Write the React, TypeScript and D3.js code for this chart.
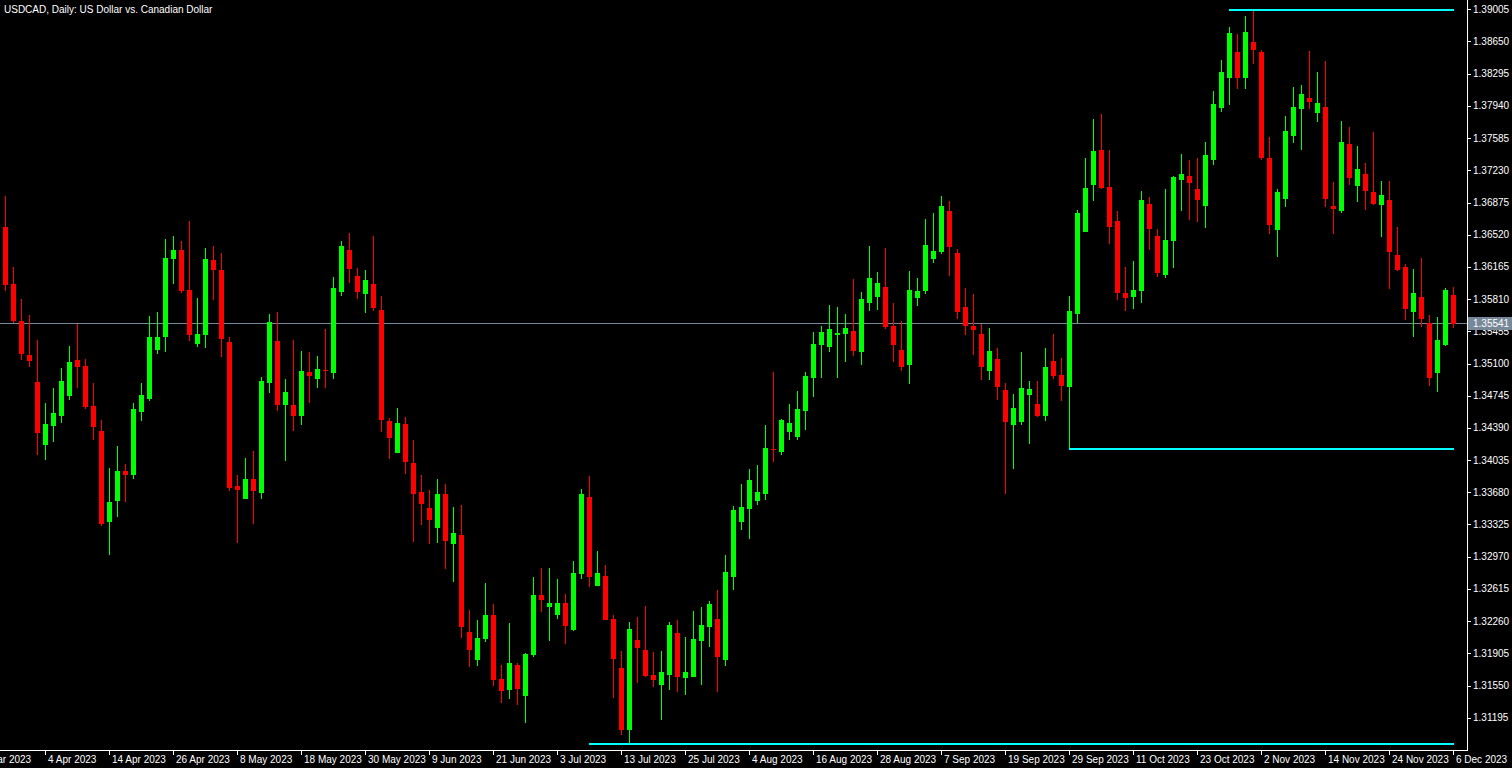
import React, { useEffect } from 'react';
import * as d3 from 'd3';

const openP = [1.3661,1.3598,1.3557,1.3519,1.3490,1.3420,1.3441,1.3452,1.3474,1.3514,1.3507,1.3463,1.3436,1.3335,1.3358,1.3392,1.3387,1.3457,1.3471,1.3525,1.3539,1.3625,1.3635,1.3591,1.3532,1.3541,1.3624,1.3613,1.3534,1.3375,1.3361,1.3383,1.3367,1.3489,1.3535,1.3464,1.3464,1.3452,1.3501,1.3493,1.3503,1.3500,1.3589,1.3635,1.3606,1.3587,1.3598,1.3569,1.3447,1.3411,1.3443,1.3400,1.3368,1.3351,1.3329,1.3366,1.3311,1.3321,1.3214,1.3183,1.3206,1.3233,1.3162,1.3150,1.3178,1.3143,1.3189,1.3255,1.3242,1.3233,1.3246,1.3216,1.3278,1.3363,1.3265,1.3276,1.3228,1.3174,1.3106,1.3205,1.3194,1.3167,1.3156,1.3167,1.3213,1.3163,1.3164,1.3204,1.3220,1.3228,1.3183,1.3275,1.3335,1.3350,1.3358,1.3366,1.3416,1.3412,1.3435,1.3429,1.3458,1.3494,1.3530,1.3528,1.3541,1.3543,1.3546,1.3523,1.3577,1.3583,1.3594,1.3551,1.3525,1.3508,1.3582,1.3590,1.3625,1.3633,1.3678,1.3632,1.3572,1.3551,1.3543,1.3502,1.3515,1.3481,1.3442,1.3446,1.3475,1.3465,1.3452,1.3513,1.3497,1.3484,1.3565,1.3655,1.3707,1.3745,1.3705,1.3667,1.3588,1.3583,1.3590,1.3686,1.3651,1.3608,1.3645,1.3712,1.3717,1.3702,1.3684,1.3734,1.3792,1.3825,1.3853,1.3825,1.3864,1.3853,1.3737,1.3657,1.3691,1.3761,1.3791,1.3803,1.3786,1.3793,1.3684,1.3678,1.3752,1.3706,1.3719,1.3699,1.3685,1.3690,1.3630,1.3616,1.3567,1.3583,1.3555,1.3500,1.3530,1.3586];
const highP = [1.3695,1.3616,1.3581,1.3563,1.3536,1.3466,1.3483,1.3505,1.3529,1.3554,1.3515,1.3489,1.3448,1.3395,1.3419,1.3399,1.3466,1.3489,1.3562,1.3567,1.3647,1.3651,1.3645,1.3667,1.3582,1.3637,1.3640,1.3632,1.3539,1.3387,1.3406,1.3414,1.3495,1.3565,1.3567,1.3493,1.3536,1.3524,1.3523,1.3518,1.3548,1.3605,1.3645,1.3654,1.3615,1.3613,1.3651,1.3584,1.3450,1.3461,1.3451,1.3426,1.3387,1.3371,1.3383,1.3377,1.3352,1.3354,1.3238,1.3227,1.3268,1.3245,1.3178,1.3224,1.3180,1.3191,1.3275,1.3285,1.3285,1.3272,1.3256,1.3292,1.3372,1.3386,1.3303,1.3288,1.3233,1.3193,1.3225,1.3231,1.3243,1.3192,1.3193,1.3225,1.3227,1.3209,1.3237,1.3242,1.3248,1.3260,1.3299,1.3353,1.3377,1.3394,1.3398,1.3442,1.3501,1.3449,1.3465,1.3480,1.3501,1.3545,1.3551,1.3575,1.3572,1.3565,1.3603,1.3589,1.3640,1.3611,1.3637,1.3577,1.3557,1.3612,1.3604,1.3669,1.3676,1.3695,1.3689,1.3636,1.3593,1.3587,1.3554,1.3549,1.3527,1.3489,1.3476,1.3523,1.3491,1.3491,1.3527,1.3543,1.3516,1.3584,1.3679,1.3737,1.3780,1.3785,1.3745,1.3678,1.3616,1.3623,1.3700,1.3694,1.3658,1.3702,1.3717,1.3741,1.3734,1.3737,1.3754,1.3810,1.3845,1.3881,1.3873,1.3893,1.3900,1.3856,1.3760,1.3702,1.3783,1.3815,1.3817,1.3855,1.3831,1.3844,1.3710,1.3777,1.3771,1.3750,1.3731,1.3765,1.3711,1.3711,1.3661,1.3620,1.3614,1.3626,1.3563,1.3561,1.3593,1.3594];
const lowP = [1.3590,1.3555,1.3514,1.3506,1.3409,1.3404,1.3423,1.3444,1.3470,1.3483,1.3460,1.3426,1.3331,1.3299,1.3341,1.3357,1.3383,1.3447,1.3469,1.3520,1.3523,1.3598,1.3588,1.3535,1.3528,1.3527,1.3580,1.3517,1.3369,1.3312,1.3361,1.3333,1.3361,1.3478,1.3458,1.3403,1.3436,1.3442,1.3466,1.3483,1.3483,1.3493,1.3584,1.3599,1.3581,1.3566,1.3568,1.3434,1.3405,1.3411,1.3388,1.3313,1.3332,1.3311,1.3312,1.3283,1.3269,1.3207,1.3175,1.3177,1.3203,1.3154,1.3136,1.3140,1.3134,1.3114,1.3186,1.3236,1.3204,1.3228,1.3201,1.3215,1.3272,1.3264,1.3265,1.3227,1.3141,1.3100,1.3089,1.3158,1.3164,1.3153,1.3117,1.3150,1.3148,1.3145,1.3164,1.3156,1.3197,1.3148,1.3177,1.3260,1.3326,1.3317,1.3354,1.3360,1.3401,1.3409,1.3426,1.3426,1.3437,1.3473,1.3494,1.3523,1.3494,1.3512,1.3518,1.3508,1.3568,1.3569,1.3548,1.3512,1.3502,1.3487,1.3573,1.3587,1.3621,1.3631,1.3606,1.3559,1.3541,1.3519,1.3492,1.3492,1.3470,1.3366,1.3394,1.3442,1.3421,1.3451,1.3447,1.3493,1.3469,1.3416,1.3555,1.3655,1.3689,1.3702,1.3642,1.3580,1.3568,1.3570,1.3577,1.3635,1.3605,1.3604,1.3615,1.3678,1.3668,1.3666,1.3659,1.3729,1.3787,1.3795,1.3813,1.3813,1.3840,1.3734,1.3653,1.3627,1.3683,1.3753,1.3745,1.3791,1.3776,1.3683,1.3653,1.3676,1.3707,1.3688,1.3679,1.3685,1.3650,1.3592,1.3612,1.3558,1.3539,1.3550,1.3485,1.3479,1.3529,1.3549];
const closeP = [1.3597,1.3557,1.3520,1.3513,1.3433,1.3443,1.3455,1.3491,1.3512,1.3506,1.3462,1.3440,1.3333,1.3357,1.3392,1.3387,1.3460,1.3475,1.3539,1.3539,1.3626,1.3635,1.3590,1.3541,1.3543,1.3625,1.3613,1.3537,1.3373,1.3371,1.3383,1.3369,1.3491,1.3556,1.3464,1.3479,1.3452,1.3502,1.3496,1.3504,1.3502,1.3593,1.3640,1.3614,1.3589,1.3602,1.3571,1.3448,1.3428,1.3444,1.3401,1.3366,1.3355,1.3338,1.3366,1.3314,1.3323,1.3220,1.3194,1.3207,1.3233,1.3161,1.3149,1.3180,1.3151,1.3190,1.3255,1.3249,1.3246,1.3246,1.3221,1.3279,1.3366,1.3275,1.3279,1.3227,1.3184,1.3106,1.3217,1.3196,1.3166,1.3161,1.3170,1.3222,1.3164,1.3170,1.3206,1.3222,1.3245,1.3186,1.3280,1.3348,1.3352,1.3382,1.3368,1.3417,1.3415,1.3448,1.3444,1.3460,1.3496,1.3532,1.3545,1.3548,1.3544,1.3549,1.3524,1.3581,1.3604,1.3599,1.3550,1.3530,1.3506,1.3591,1.3590,1.3641,1.3634,1.3684,1.3638,1.3567,1.3551,1.3547,1.3506,1.3524,1.3484,1.3446,1.3461,1.3483,1.3482,1.3452,1.3506,1.3496,1.3485,1.3568,1.3676,1.3704,1.3744,1.3704,1.3661,1.3588,1.3582,1.3591,1.3690,1.3658,1.3610,1.3646,1.3716,1.3719,1.3709,1.3690,1.3740,1.3796,1.3831,1.3874,1.3825,1.3876,1.3856,1.3737,1.3663,1.3699,1.3766,1.3793,1.3807,1.3798,1.3797,1.3691,1.3680,1.3754,1.3715,1.3724,1.3700,1.3686,1.3696,1.3633,1.3613,1.3570,1.3588,1.3559,1.3494,1.3536,1.3591,1.3554];

const priceTickLabels = ["1.39005","1.38650","1.38295","1.37940","1.37585","1.37230","1.36875","1.36520","1.36165","1.35810","1.35455","1.35100","1.34745","1.34390","1.34035","1.33680","1.33325","1.32970","1.32615","1.32260","1.31905","1.31550","1.31195"];
const dateLabels = ["23 Mar 2023","4 Apr 2023","14 Apr 2023","26 Apr 2023","8 May 2023","18 May 2023","30 May 2023","9 Jun 2023","21 Jun 2023","3 Jul 2023","13 Jul 2023","25 Jul 2023","4 Aug 2023","16 Aug 2023","28 Aug 2023","7 Sep 2023","19 Sep 2023","29 Sep 2023","11 Oct 2023","23 Oct 2023","2 Nov 2023","14 Nov 2023","24 Nov 2023","6 Dec 2023"];
const dateLabelFirstIndex = -3;
const dateLabelStep = 8;

const levelPrices = [1.3900, 1.3416, 1.3090];
const levelStartIndex = [153, 133, 73];
const levelEndIndex = [181, 181, 181];

const bidPrice = 1.35541;
const title = "USDCAD, Daily:  US Dollar vs. Canadian Dollar";

const W = 1512, H = 768;
const plotRight = 1467;
const plotBottom = 750;
const FONT = "'Liberation Sans', Arial, sans-serif";

export default function App() {
  useEffect(() => {
    document.body.style.margin = '0';
    document.body.style.background = '#000';
  }, []);

  const n = closeP.length;
  const x = d3.scaleLinear().domain([0, n - 1]).range([5, 1453]);
  const y = d3.scaleLinear().domain([1.31195, 1.39005]).range([717.7, 9.3]);

  const up = '#00ff00', down = '#ff0000';

  return (
    <svg width={W} height={H} style={{ display: 'block', background: '#000' }}>
      <rect x={0} y={0} width={W} height={H} fill="#000" />
      <line x1={0} x2={plotRight} y1={Math.round(y(bidPrice)) + 0.5} y2={Math.round(y(bidPrice)) + 0.5} stroke="#778899" strokeWidth={1} />
      <g shapeRendering="crispEdges">
        {closeP.map((c, i) => {
          const o = openP[i];
          const cx = Math.round(x(i));
          const bull = c >= o;
          const col = bull ? up : down;
          const yt = Math.round(y(Math.max(o, c)));
          const yb = Math.round(y(Math.min(o, c)));
          return (
            <g key={i}>
              <rect x={cx} y={Math.round(y(highP[i]))} width={1} height={Math.max(1, Math.round(y(lowP[i])) - Math.round(y(highP[i])))} fill={col} />
              <rect x={cx - 2} y={yt} width={5} height={Math.max(1, yb - yt)} fill={col} />
            </g>
          );
        })}
      </g>
      <g shapeRendering="crispEdges">
        {levelPrices.map((p, k) => (
          <rect key={k} x={Math.round(x(levelStartIndex[k]))} y={Math.round(y(p)) - 1} width={Math.round(x(levelEndIndex[k])) - Math.round(x(levelStartIndex[k])) + 1} height={2} fill="#00ffff" />
        ))}
      </g>
      <g shapeRendering="crispEdges">
        <line x1={plotRight + 0.5} x2={plotRight + 0.5} y1={0} y2={plotBottom} stroke="#fff" />
        <line x1={0} x2={plotRight + 1} y1={plotBottom + 0.5} y2={plotBottom + 0.5} stroke="#fff" />
        {priceTickLabels.map((t, k) => {
          const yy = Math.round(y(+t)) + 0.5;
          return <line key={k} x1={plotRight} x2={plotRight + 4} y1={yy} y2={yy} stroke="#fff" />;
        })}
        {dateLabels.map((t, k) => {
          const xx = Math.round(x(dateLabelFirstIndex + k * dateLabelStep)) + 0.5;
          return <line key={k} x1={xx} x2={xx} y1={plotBottom} y2={plotBottom + 5} stroke="#fff" />;
        })}
      </g>
      {priceTickLabels.map((t, k) => (
        <text key={k} x={plotRight + 6} y={y(+t) + 3.5} fill="#fff" fontSize={10} fontFamily={FONT}>{t}</text>
      ))}
      {dateLabels.map((t, k) => (
        <text key={k} x={Math.round(x(dateLabelFirstIndex + k * dateLabelStep)) + (k === 0 ? -6 : 3)} y={763} fill="#fff" fontSize={10} fontFamily={FONT}>{t}</text>
      ))}
      <rect x={plotRight + 1} y={Math.round(y(bidPrice)) - 6} width={W - plotRight - 1} height={13} fill="#778899" shapeRendering="crispEdges" />
      <text x={plotRight + 6} y={y(bidPrice) + 4} fill="#fff" fontSize={10} fontFamily={FONT}>{bidPrice.toFixed(5)}</text>
      <text x={4} y={13} fill="#fff" fontSize={10} fontFamily={FONT}>{title}</text>
    </svg>
  );
}
